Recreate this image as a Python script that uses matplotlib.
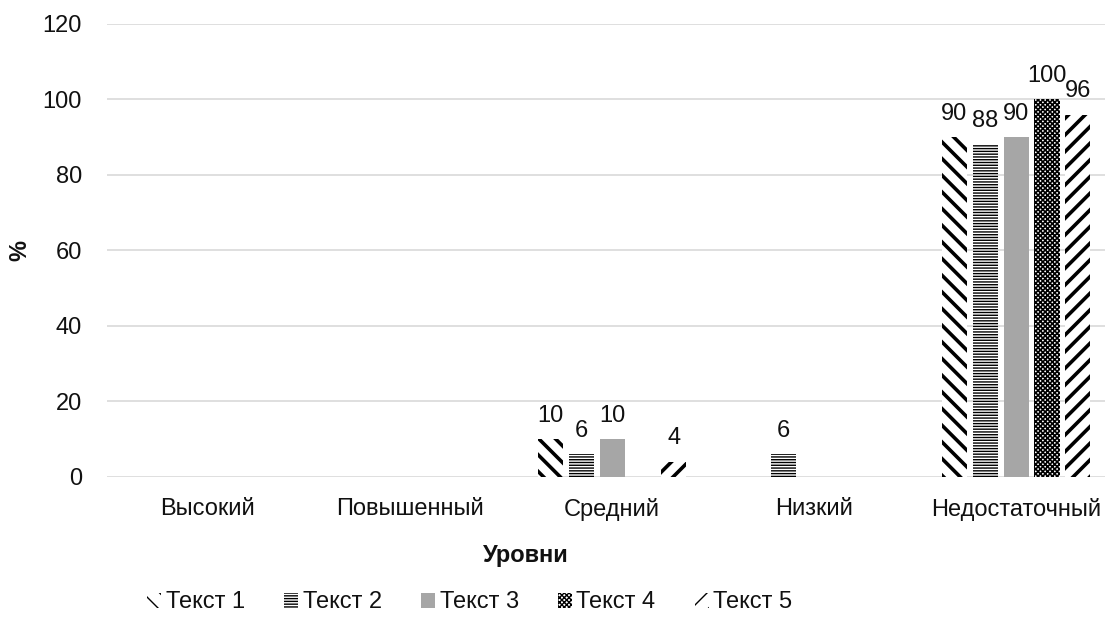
import numpy as np
import matplotlib.pyplot as plt

plt.rcParams['font.family'] = ['Liberation Sans', 'DejaVu Sans']

levels = ["Высокий", "Повышенный", "Средний", "Низкий", "Недостаточный"]
series = ["Текст 1", "Текст 2", "Текст 3", "Текст 4", "Текст 5"]
text1 = [0, 0, 10, 0, 90]
text2 = [0, 0, 6, 6, 88]
text3 = [0, 0, 10, 0, 90]
text4 = [0, 0, 0, 0, 100]
text5 = [0, 0, 4, 0, 96]
values = [text1, text2, text3, text4, text5]

# hatch, face colour, hatch line width
styles = [("\\\\", "white", 2.6),
          ("------", "white", 1.0),
          ("", "#a6a6a6", 1.0),
          ("xxxxxxx", "white", 1.2),
          ("//", "white", 2.6)]

fig = plt.figure(figsize=(11.05, 6.21), dpi=100)
ax = fig.add_axes([0.0968, 0.2319, 0.9032, 0.7295])

x = np.arange(len(levels))
pitch = 0.153
width = 0.124
for i, (name, vals) in enumerate(zip(series, values)):
    hatch, face, hlw = styles[i]
    with plt.rc_context({'hatch.linewidth': hlw}):
        bars = ax.bar(x + (i - 2) * pitch, vals, width, color=face,
                      edgecolor="black" if hatch else face, linewidth=0,
                      hatch=hatch or None, label=name, zorder=2)
    ax.bar_label(bars, labels=[str(v) if v else "" for v in vals],
                 padding=9, fontsize=17, color="#111111")

ax.set_xlim(-0.5, 4.44)
ax.set_ylim(0, 120)
ax.set_yticks(range(0, 121, 20))
ax.set_xticks(x)
ax.set_xticklabels(levels)
ax.tick_params(axis="both", length=0, labelsize=17, colors="#111111")
ax.tick_params(axis="y", pad=18)
ax.tick_params(axis="x", pad=15)
ax.grid(axis="y", color="#d9d9d9", linewidth=1.2, zorder=0)
ax.set_axisbelow(True)
for s in ax.spines.values():
    s.set_visible(False)

ax.set_xlabel("Уровни", fontsize=17, fontweight="bold", color="#111111")
ax.xaxis.set_label_coords(0.42, -0.147)
ax.set_ylabel("%", fontsize=17, fontweight="bold", color="#111111")
ax.yaxis.set_label_coords(-0.076, 0.5)

fig.legend(loc="center", bbox_to_anchor=(0.425, 0.03), ncol=5, frameon=False,
           fontsize=17, handlelength=0.6, handleheight=0.6, handletextpad=0.2,
           columnspacing=1.65, labelcolor="#111111")

fig.savefig("out.png", dpi=100)
